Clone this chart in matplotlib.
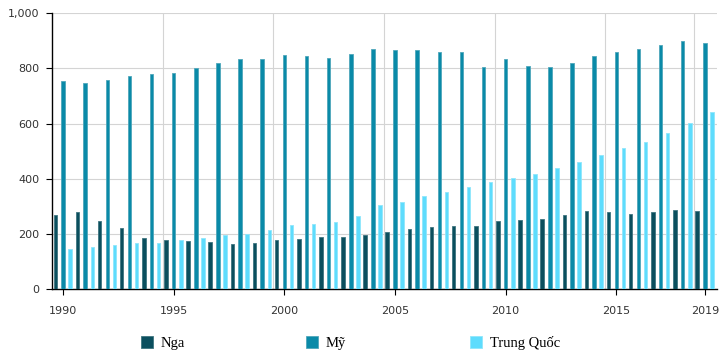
import matplotlib
matplotlib.use("Agg")
import matplotlib.pyplot as plt
from matplotlib.ticker import FixedLocator, FuncFormatter
import numpy as np

years = np.arange(1990, 2020)
nga = [268, 280, 248, 221, 185, 179, 175, 171, 164, 168,
       179, 182, 190, 190, 197, 208, 219, 226, 229, 229,
       248, 251, 255, 269, 284, 280, 273, 280, 287, 284]
my = [755, 746, 758, 773, 780, 784, 802, 820, 835, 835,
      849, 845, 838, 853, 871, 867, 867, 860, 860, 806,
      835, 809, 806, 820, 845, 860, 871, 885, 900, 893]
trung_quoc = [146, 153, 161, 168, 168, 179, 186, 197, 200, 215,
              233, 237, 244, 266, 306, 316, 338, 353, 371, 389,
              403, 418, 440, 461, 487, 512, 534, 566, 603, 643]
labels = ["Nga", "Mỹ", "Trung Quốc"]
colors = ["#0b4f5e", "#0a8aa8", "#5edcfd"]
edges = ["#3f7580", "#4fa7bb", "#8fe6fb"]
tick_years = [1990, 1995, 2000, 2005, 2010, 2015, 2019]

fig = plt.figure(figsize=(7.27, 3.57), dpi=100)
ax = fig.add_axes([52 / 727, 1 - 289 / 357, 665 / 727, (289 - 13.3) / 357])

w = 0.16
offsets = [-0.35, 0.0, 0.32]
handles = []
for vals, off, c, ec, lab in zip([nga, my, trung_quoc], offsets, colors, edges, labels):
    b = ax.bar(years + off, vals, width=w, color=c, edgecolor=ec, linewidth=0.6, label=lab, zorder=3)
    handles.append(b)

ax.set_xlim(1989.5, 2019.55)
ax.set_ylim(0, 1000)
ax.set_yticks(np.arange(0, 1001, 200))
ax.yaxis.set_major_formatter(FuncFormatter(lambda v, p: f"{int(v):,}"))
ax.set_xticks(tick_years)
ax.xaxis.set_minor_locator(FixedLocator([t - 0.5 for t in tick_years[1:]]))
ax.grid(axis="y", color="#d4d4d4", linewidth=0.8, zorder=0)
ax.grid(axis="x", which="minor", color="#d4d4d4", linewidth=0.8, zorder=0)
ax.tick_params(which="minor", length=0)
ax.tick_params(which="major", labelsize=8, labelcolor="#333333", length=4, width=0.8, pad=5)
ax.tick_params(axis="x", which="major", pad=8)
for s in ["top", "right"]:
    ax.spines[s].set_visible(False)
for s in ["left", "bottom"]:
    ax.spines[s].set_color("black")
    ax.spines[s].set_linewidth(1.0)

xs = [141 / 727, 306 / 727, 470 / 727]
for h, lab, x in zip(handles, labels, xs):
    fig.legend([h], [lab], loc="center left", bbox_to_anchor=(x, 1 - 343 / 357),
               frameon=False, borderpad=0, borderaxespad=0, handlelength=0.85,
               handleheight=0.85, handletextpad=0.5,
               prop={"family": "Liberation Serif", "size": 10.5})

fig.savefig("out.png", dpi=100)
